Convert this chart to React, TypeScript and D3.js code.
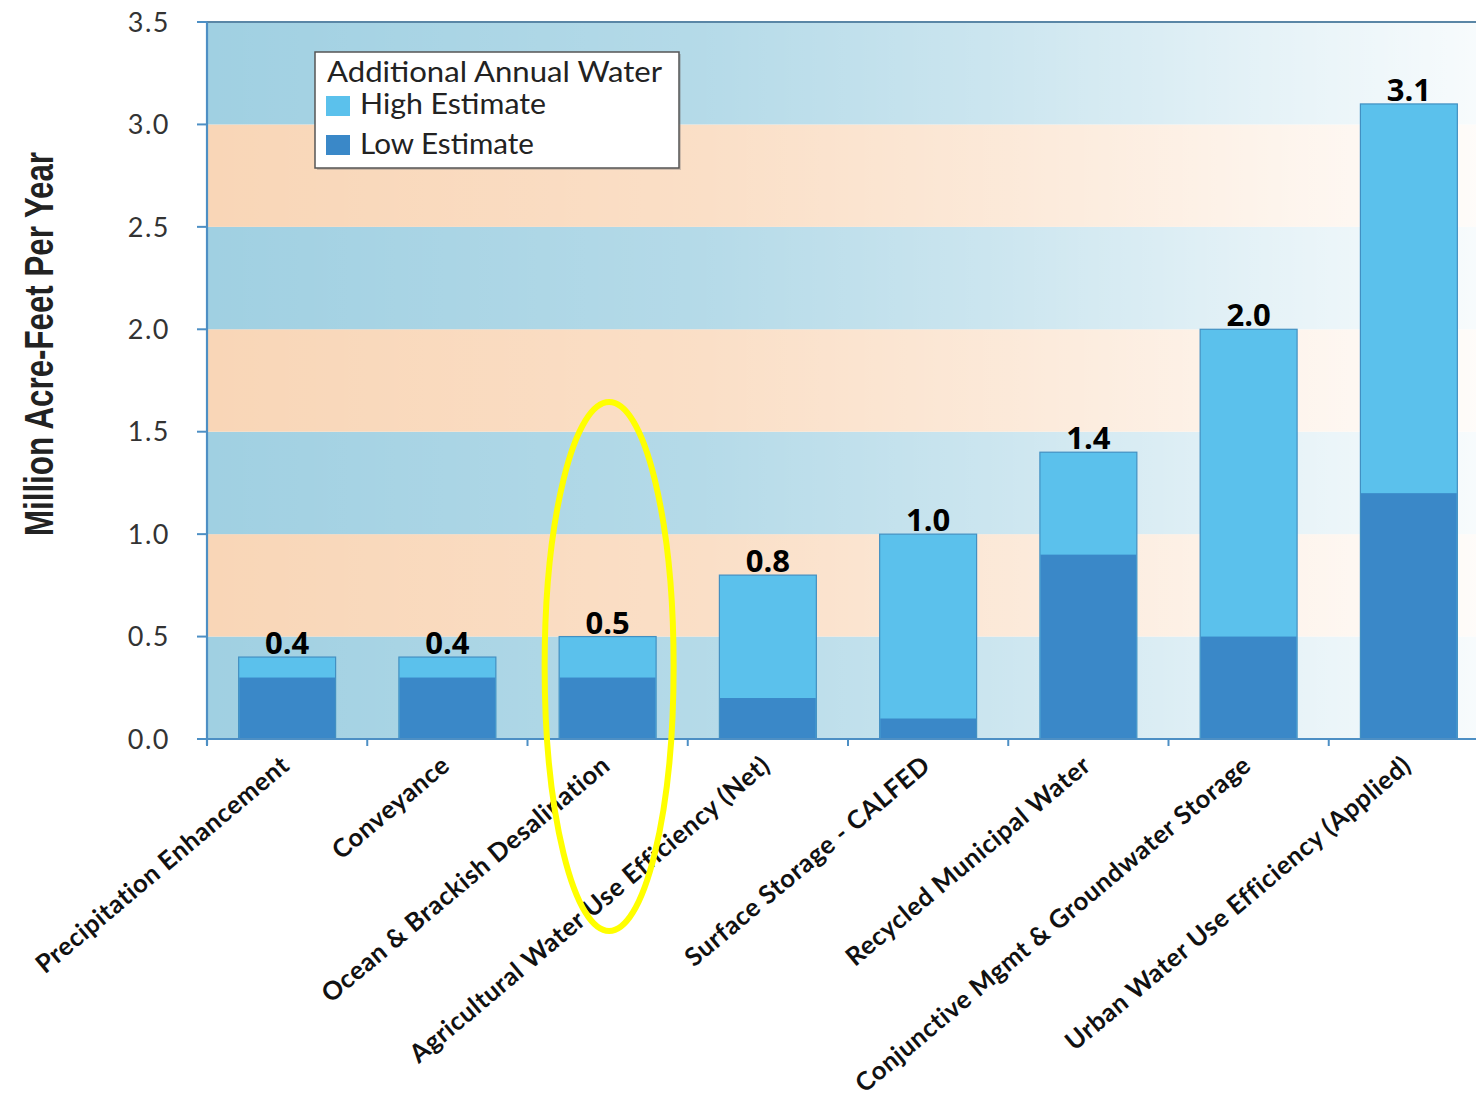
import React from "react";
import * as d3 from "d3";

const categories = [
  "Precipitation Enhancement",
  "Conveyance",
  "Ocean & Brackish Desalination",
  "Agricultural Water Use Efficiency (Net)",
  "Surface Storage - CALFED",
  "Recycled Municipal Water",
  "Conjunctive Mgmt & Groundwater Storage",
  "Urban Water Use Efficiency (Applied)",
];
const highEstimate = [0.4, 0.4, 0.5, 0.8, 1.0, 1.4, 2.0, 3.1];
const lowEstimate = [0.3, 0.3, 0.3, 0.2, 0.1, 0.9, 0.5, 1.2];
const yTicks = [0, 0.5, 1.0, 1.5, 2.0, 2.5, 3.0, 3.5];
const highLabels = ["0.4", "0.4", "0.5", "0.8", "1.0", "1.4", "2.0", "3.1"];

const W = 1476;
const H = 1110;
const left = 207;
const right = 1489;
const top = 22;
const bottom = 739;

export default function App() {
  const x = d3
    .scaleBand<string>()
    .domain(categories)
    .range([left, right])
    .paddingInner(0.395)
    .paddingOuter(0.1975);
  const y = d3.scaleLinear().domain([0, 3.5]).range([bottom, top]);
  const step = x.step();
  const bw = x.bandwidth();
  const boundaries = categories.map((c) => (x(c) as number) - (step - bw) / 2);

  const bands = d3.range(yTicks.length - 1).map((i) => ({
    y0: yTicks[i],
    y1: yTicks[i + 1],
    fill: i % 2 === 0 ? "#a0d0e2" : "#f9d6b7",
  }));

  const axisColor = "#4d8fc4";

  return (
    <svg
      width={W}
      height={H}
      style={{ position: "absolute", left: 0, top: 0, background: "#ffffff" }}
    >
      <defs>
        <linearGradient id="fade" gradientUnits="userSpaceOnUse" x1={left} x2={W} y1={0} y2={0}>
          <stop offset="0" stopColor="#ffffff" stopOpacity={0} />
          <stop offset="0.39" stopColor="#ffffff" stopOpacity={0.22} />
          <stop offset="0.62" stopColor="#ffffff" stopOpacity={0.46} />
          <stop offset="0.86" stopColor="#ffffff" stopOpacity={0.76} />
          <stop offset="1" stopColor="#ffffff" stopOpacity={0.92} />
        </linearGradient>
      </defs>

      {/* background bands */}
      {bands.map((b, i) => (
        <rect
          key={"band" + i}
          x={left}
          y={y(b.y1)}
          width={right - left}
          height={y(b.y0) - y(b.y1)}
          fill={b.fill}
        />
      ))}
      <rect x={left} y={top} width={right - left} height={bottom - top} fill="url(#fade)" />

      {/* bars */}
      {categories.map((c, i) => (
        <g key={"bar" + i}>
          <rect
            x={x(c)}
            y={y(highEstimate[i])}
            width={bw}
            height={y(0) - y(highEstimate[i])}
            fill="#5bc1ec"
            stroke="#4290c2"
            strokeWidth={1.2}
          />
          <rect
            x={(x(c) as number) + 0.6}
            y={y(lowEstimate[i])}
            width={bw - 1.2}
            height={y(0) - y(lowEstimate[i])}
            fill="#3a88c8"
          />
        </g>
      ))}

      {/* axes */}
      <line x1={197} x2={W} y1={top} y2={top} stroke="#5a86a6" strokeWidth={2.2} />
      <line x1={left} x2={left} y1={top} y2={bottom + 6} stroke={axisColor} strokeWidth={2.2} />
      <line x1={197} x2={W} y1={bottom} y2={bottom} stroke={axisColor} strokeWidth={2.2} />
      {yTicks.map((t) => (
        <g key={"yt" + t}>
          <line x1={197} x2={left} y1={y(t)} y2={y(t)} stroke={axisColor} strokeWidth={2} />
          <text
            x={170}
            y={y(t)}
            dy="0.36em"
            textAnchor="end"
            fontFamily="Lato, sans-serif"
            fontSize={27}
            letterSpacing={1.5}
            fill="#333"
          >
            {t.toFixed(1)}
          </text>
        </g>
      ))}
      {boundaries.map((bx, i) => (
        <line key={"xt" + i} x1={bx} x2={bx} y1={bottom} y2={bottom + 7} stroke={axisColor} strokeWidth={2} />
      ))}

      {/* value labels */}
      {categories.map((c, i) => (
        <text
          key={"val" + i}
          x={(x(c) as number) + bw / 2}
          y={y(highEstimate[i]) - 3}
          textAnchor="middle"
          fontFamily="Open Sans, sans-serif"
          fontWeight={700}
          fontSize={31}
          fill="#000"
        >
          {highLabels[i]}
        </text>
      ))}

      {/* category labels */}
      {categories.map((c, i) => {
        const cx = (x(c) as number) + bw / 2 + 4;
        const cy = 768;
        return (
          <text
            key={"cat" + i}
            transform={`translate(${cx},${cy}) rotate(-40)`}
            textAnchor="end"
            fontFamily="Lato, sans-serif"
            fontWeight={700}
            fontSize={25.5}
            letterSpacing={0.6}
            fill="#111"
          >
            {c}
          </text>
        );
      })}

      {/* y axis title */}
      <text
        transform={`translate(53,344) rotate(-90)`}
        textAnchor="middle"
        fontFamily="Liberation Sans Narrow, Liberation Sans, Arial, sans-serif"
        fontWeight={700}
        fontSize={41}
        textLength={384}
        lengthAdjust="spacingAndGlyphs"
        fill="#222"
      >
        Million Acre-Feet Per Year
      </text>

      {/* legend */}
      <g>
        <rect x={317} y={54} width={364} height={116} fill="#777" opacity={0.35} />
        <rect x={315} y={52} width={364} height={116} fill="#ffffff" stroke="#555" strokeWidth={1.5} />
        <text
          x={327}
          y={82}
          fontFamily="Lato, sans-serif"
          fontSize={28}
          fill="#222"
          textLength={335}
          lengthAdjust="spacingAndGlyphs"
        >
          Additional Annual Water
        </text>
        <rect x={326} y={96} width={24} height={20} fill="#5bc1ec" />
        <text
          x={360}
          y={114}
          fontFamily="Lato, sans-serif"
          fontSize={28}
          fill="#222"
          textLength={186}
          lengthAdjust="spacingAndGlyphs"
        >
          High Estimate
        </text>
        <rect x={326} y={135} width={24} height={20} fill="#3a88c8" />
        <text
          x={360}
          y={154}
          fontFamily="Lato, sans-serif"
          fontSize={28}
          fill="#222"
          textLength={174}
          lengthAdjust="spacingAndGlyphs"
        >
          Low Estimate
        </text>
      </g>

      {/* annotation ellipse */}
      <ellipse
        cx={(x(categories[2]) as number) + bw / 2 + 1.5}
        cy={666.5}
        rx={64.5}
        ry={264.5}
        fill="none"
        stroke="#ffff00"
        strokeWidth={6}
      />
    </svg>
  );
}
